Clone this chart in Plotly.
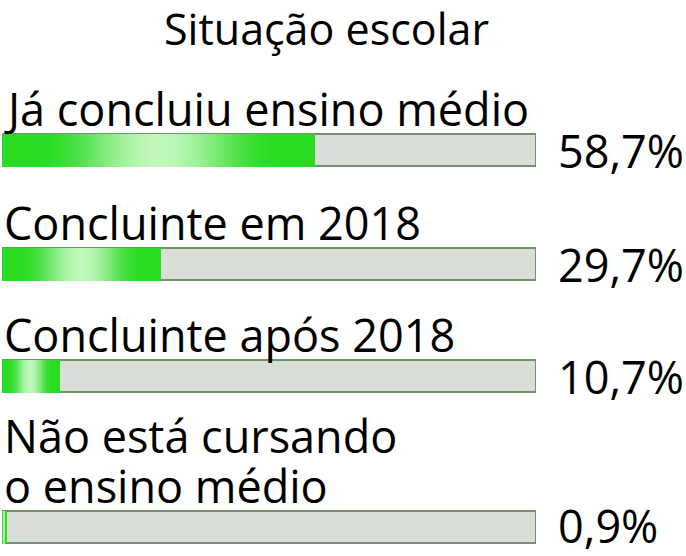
import math
import plotly.graph_objects as go

# ---- data ----
title_text = "Situação escolar"
categories = ["Já concluiu ensino médio", "Concluinte em 2018", "Concluinte após 2018",
              "Não está cursando<br>o ensino médio"]
values = [58.7, 29.7, 10.7, 0.9]

# ---- layout constants (pixels) ----
W, H = 686, 556
row_y = [150, 264, 376, 527]   # bar centres in pixel units
bar_h = 32
FONT = "Open Sans"
green = (42, 219, 36)
light = (192, 247, 186)
gray_fill = "#d9ded6"
gray_line = "#74906f"

fig = go.Figure()

# background full bars
fig.add_trace(go.Bar(
    y=row_y, x=[100] * len(values), orientation="h", width=bar_h,
    marker=dict(color=gray_fill, line=dict(color=gray_line, width=2)),
    hoverinfo="skip", showlegend=False))

# gradient green bars: split each bar into N segments (overlapping slightly)
N = 120
def seg_color(t):
    d = abs(t - 0.5) / 0.5          # 0 centre .. 1 edge
    f = 0.5 * (1 + math.cos(math.pi * min(d / 0.76, 1.0)))
    c = [round(g + (l - g) * f) for g, l in zip(green, light)]
    return f"rgb({c[0]},{c[1]},{c[2]})"

for i in range(N):
    t = (i + 0.5) / N
    bases = [v * i / N for v in values]
    lens = [min(v * (i + 2) / N, v) - b for v, b in zip(values, bases)]
    fig.add_trace(go.Bar(
        y=row_y, x=lens, base=bases,
        orientation="h", width=bar_h + 1,
        marker=dict(color=seg_color(t), line=dict(width=0)),
        hoverinfo="skip", showlegend=False))

ann = []
label_size = 45
line_gap = 50
for cat, v, yc in zip(categories, values, row_y):
    lines = cat.split("<br>")
    for k, ln in enumerate(lines):
        ann.append(dict(text=ln, x=0, xref="x", xanchor="left", xshift=0,
                        y=yc - 42 - (len(lines) - 1 - k) * line_gap, yref="y",
                        yanchor="middle", showarrow=False,
                        font=dict(family=FONT, size=label_size, color="black")))
    ann.append(dict(text=f"{v:.1f}".replace(".", ",") + "%", x=100, xref="x",
                    xanchor="left", xshift=20, y=min(yc, H - 31), yref="y",
                    yanchor="middle", showarrow=False,
                    font=dict(family=FONT, size=label_size, color="black")))

ann.append(dict(text=title_text, x=(326 - 2) / 534 * 100, xref="x", showarrow=False,
                y=28, yref="y", yanchor="middle", xanchor="center",
                font=dict(family=FONT, size=43, color="black")))

fig.update_layout(
    width=W, height=H, margin=dict(l=2, r=150, t=0, b=0),
    paper_bgcolor="white", plot_bgcolor="white",
    barmode="overlay", bargap=0,
    xaxis=dict(range=[0, 100], visible=False, fixedrange=True),
    yaxis=dict(range=[H, 0], visible=False, fixedrange=True),
    annotations=ann, showlegend=False)

fig.write_html("out.html", config={"displayModeBar": False},
               post_script="document.body.style.margin='0';")
